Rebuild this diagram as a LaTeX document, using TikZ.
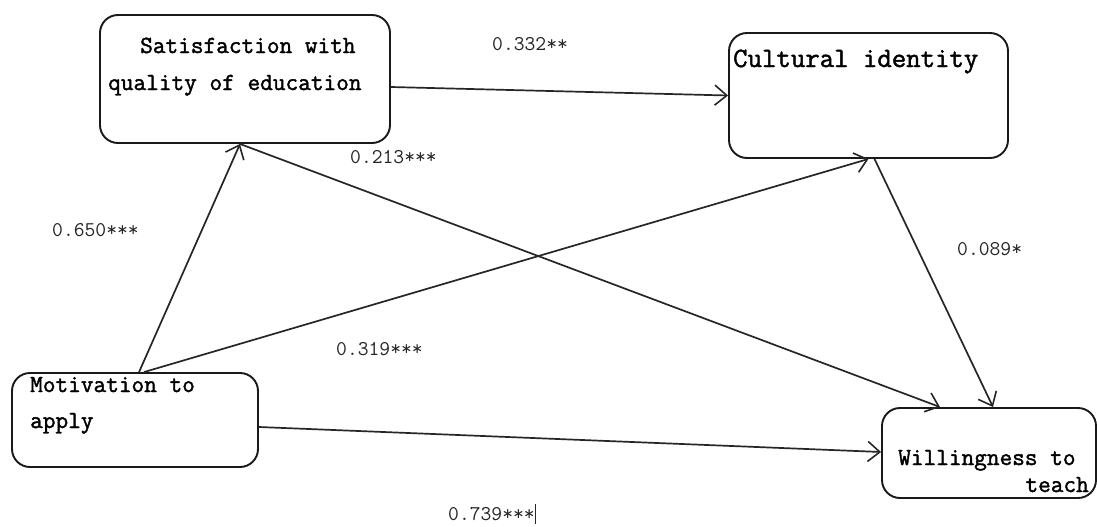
\documentclass[tikz,border=0pt]{standalone}
\usepackage{fontspec}
\usetikzlibrary{arrows.meta}
\newfontfamily\boxfont{Latin Modern Mono}[FakeBold=1.6]
\newfontfamily\numfont{Latin Modern Mono}
\tikzset{
  box/.style={draw=black!90, line width=1.9pt, rounded corners=18pt, inner sep=0pt},
  boxtext/.style={anchor=base west, inner sep=0pt, font=\boxfont\fontsize{24.6}{28}\selectfont},
  coef/.style={anchor=base west, inner sep=0pt, font=\numfont\fontsize{21}{24}\selectfont, text=black!85},
  path/.style={draw=black!85, line width=1.7pt, -{Straight Barb[length=12pt,width=20pt,line width=1.6pt]}}
}
\begin{document}
\begin{tikzpicture}[x=1pt,y=-1pt]
\useasboundingbox[fill=white] (0,0) rectangle (1097,527);
% boxes
\node[box, minimum width=290pt, minimum height=128pt] (sat) at (245,79) {};
\node[box, minimum width=279pt, minimum height=125pt] (cul) at (868.5,95.5) {};
\node[box, minimum width=246pt, minimum height=94pt] (mot) at (135,420) {};
\node[box, minimum width=214pt, minimum height=90pt] (wil) at (989,453) {};
% box texts
\node[boxtext] (sat1) at (140,53) {Satisfaction with};
\node[boxtext] (sat2) at (108,90) {quality of education};
\node[boxtext, font=\boxfont\fontsize{28}{32}\selectfont] (cul1) at (733,67) {Cultural identity};
\node[boxtext] (mot1) at (30,392) {Motivation to};
\node[boxtext] (mot2) at (30,428) {apply};
\node[boxtext] (wil1) at (898,465) {Willingness to};
\node[boxtext, anchor=base east] (wil2) at (1089,492) {teach};
% connectors
\draw[path] ([yshift=-8pt]sat.east) -- (cul.west);
\draw[path] ([xshift=128pt]mot.north west) -- ([xshift=-5pt]sat.south);
\draw[path] ([xshift=133pt]mot.north west) -- (cul.south);
\draw[path] ([xshift=-5pt]sat.south) -- ([xshift=-49pt]wil.north);
\draw[path] ([xshift=6pt]cul.south) -- ([xshift=4pt]wil.north);
\draw[path] ([yshift=-7pt]mot.east) -- ([yshift=1pt]wil.west);
% coefficients
\node[coef] (c1) at (492,51) {0.332**};
\node[coef] (c2) at (350,163) {0.213***};
\node[coef] (c3) at (52,236) {0.650***};
\node[coef] (c4) at (957,255) {0.089*};
\node[coef] (c5) at (336,355) {0.319***};
\node[coef] (c6) at (448,520) {0.739***\rule[-4pt]{1.5pt}{20pt}};
\end{tikzpicture}
\end{document}
